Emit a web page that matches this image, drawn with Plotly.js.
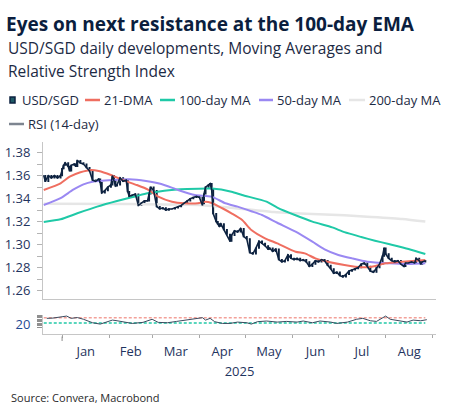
<!DOCTYPE html>
<html>
<head>
<meta charset="utf-8">
<script src="https://cdn.plot.ly/plotly-3.0.1.min.js"></script>
<style>html,body{margin:0;padding:0;background:#fff;}#chart{width:453px;height:417px;}</style>
</head>
<body>
<div id="chart"></div>
<script>
// ---------------- DATA ----------------
const priceDates = ['2024-12-20','2024-12-21','2024-12-23','2024-12-25','2024-12-27','2024-12-29','2024-12-31',
'2025-01-01','2025-01-02','2025-01-03','2025-01-05','2025-01-06','2025-01-07','2025-01-09','2025-01-10','2025-01-11','2025-01-13','2025-01-15','2025-01-17','2025-01-19','2025-01-21','2025-01-23','2025-01-25','2025-01-26','2025-01-27','2025-01-29','2025-01-31',
'2025-02-02','2025-02-03','2025-02-04','2025-02-05','2025-02-06','2025-02-08','2025-02-10','2025-02-12','2025-02-13','2025-02-14','2025-02-16','2025-02-18','2025-02-20','2025-02-22','2025-02-24','2025-02-26','2025-02-27','2025-02-28',
'2025-03-02','2025-03-04','2025-03-06','2025-03-08','2025-03-10','2025-03-12','2025-03-14','2025-03-16','2025-03-18','2025-03-20','2025-03-22','2025-03-24','2025-03-26','2025-03-28','2025-03-30',
'2025-04-01','2025-04-03','2025-04-04','2025-04-05','2025-04-07','2025-04-08','2025-04-09','2025-04-10','2025-04-12','2025-04-13','2025-04-14','2025-04-15','2025-04-17','2025-04-19','2025-04-21','2025-04-22','2025-04-24','2025-04-26','2025-04-28','2025-04-30',
'2025-05-02','2025-05-04','2025-05-06','2025-05-08','2025-05-10','2025-05-12','2025-05-14','2025-05-16','2025-05-17','2025-05-19','2025-05-21','2025-05-23','2025-05-25','2025-05-27','2025-05-29','2025-05-31',
'2025-06-02','2025-06-04','2025-06-06','2025-06-08','2025-06-10','2025-06-12','2025-06-14','2025-06-16','2025-06-18','2025-06-20','2025-06-22','2025-06-24','2025-06-26','2025-06-28','2025-06-30',
'2025-07-02','2025-07-04','2025-07-06','2025-07-08','2025-07-10','2025-07-12','2025-07-14','2025-07-16','2025-07-18','2025-07-20','2025-07-22','2025-07-24','2025-07-26','2025-07-28','2025-07-30','2025-07-31',
'2025-08-01','2025-08-03','2025-08-05','2025-08-07','2025-08-09','2025-08-11','2025-08-13','2025-08-14','2025-08-16','2025-08-18','2025-08-20','2025-08-21','2025-08-23','2025-08-24','2025-08-25','2025-08-27'];
const usdsgd = [1.360,1.355,1.360,1.358,1.360,1.358,1.360,
1.366,1.369,1.371,1.368,1.364,1.369,1.370,1.368,1.373,1.371,1.370,1.367,1.364,1.356,1.355,1.357,1.354,1.345,1.347,1.350,
1.352,1.360,1.356,1.351,1.352,1.358,1.355,1.356,1.346,1.342,1.343,1.344,1.334,1.336,1.338,1.338,1.344,1.350,
1.347,1.333,1.331,1.332,1.330,1.331,1.331,1.332,1.333,1.334,1.336,1.338,1.340,1.341,1.342,
1.341,1.334,1.344,1.350,1.352,1.353,1.348,1.327,1.320,1.318,1.316,1.318,1.313,1.309,1.303,1.308,1.312,1.311,1.314,1.307,
1.305,1.293,1.292,1.297,1.303,1.301,1.299,1.296,1.297,1.294,1.296,1.287,1.285,1.286,1.291,1.288,
1.287,1.288,1.286,1.287,1.285,1.281,1.283,1.286,1.285,1.287,1.286,1.282,1.279,1.275,1.276,
1.273,1.272,1.274,1.277,1.278,1.279,1.280,1.283,1.284,1.281,1.277,1.276,1.280,1.283,1.290,1.297,
1.292,1.288,1.286,1.285,1.286,1.283,1.281,1.284,1.284,1.285,1.284,1.288,1.286,1.283,1.285,1.286];

const ma21Dates = ['2024-12-20','2024-12-31','2025-01-06','2025-01-13','2025-01-20','2025-01-25','2025-02-02','2025-02-10','2025-02-19','2025-02-26','2025-03-05','2025-03-14','2025-03-22','2025-03-31','2025-04-05','2025-04-09','2025-04-16','2025-04-22','2025-04-29','2025-05-05','2025-05-14','2025-05-22','2025-06-03','2025-06-09','2025-06-16','2025-06-24','2025-07-05','2025-07-16','2025-07-23','2025-08-01','2025-08-12','2025-08-27'];
const ma21 = [1.3475,1.3533,1.3590,1.3629,1.3649,1.3640,1.3605,1.3560,1.3518,1.3480,1.3417,1.3373,1.3359,1.3359,1.3373,1.3362,1.3316,1.3272,1.3214,1.3127,1.3055,1.3011,1.2938,1.2924,1.2880,1.2851,1.2823,1.2803,1.2808,1.2837,1.2851,1.2866];

const ma50Dates = ['2024-12-20','2024-12-31','2025-01-08','2025-01-15','2025-01-21','2025-02-03','2025-02-14','2025-02-25','2025-03-07','2025-03-18','2025-03-29','2025-04-09','2025-04-18','2025-04-26','2025-05-05','2025-05-12','2025-05-22','2025-06-03','2025-06-14','2025-06-22','2025-07-01','2025-07-10','2025-07-20','2025-08-03','2025-08-16','2025-08-27'];
const ma50 = [1.3344,1.3403,1.3475,1.3524,1.3547,1.3562,1.3568,1.3553,1.3527,1.3475,1.3431,1.3417,1.3359,1.3330,1.3290,1.3257,1.3190,1.3112,1.3025,1.2959,1.2910,1.2880,1.2851,1.2837,1.2831,1.2837];

const ma100Dates = ['2024-12-20','2024-12-31','2025-01-11','2025-01-24','2025-02-06','2025-02-19','2025-02-26','2025-03-09','2025-03-24','2025-04-09','2025-04-22','2025-04-29','2025-05-15','2025-05-22','2025-06-03','2025-06-14','2025-06-27','2025-07-05','2025-07-16','2025-07-25','2025-08-03','2025-08-16','2025-08-27'];
const ma100 = [1.3197,1.3220,1.3272,1.3330,1.3379,1.3423,1.3446,1.3469,1.3483,1.3487,1.3460,1.3431,1.3373,1.3322,1.3255,1.3200,1.3150,1.3108,1.3066,1.3034,1.3005,1.2962,1.2918];

const ma200Dates = ['2024-12-20','2025-02-15','2025-04-01','2025-04-20','2025-05-05','2025-05-20','2025-06-10','2025-07-05','2025-07-20','2025-08-12','2025-08-27'];
const ma200 = [1.3355,1.3352,1.3345,1.3322,1.3303,1.3283,1.3268,1.3255,1.3243,1.3223,1.3200];

const rsiDates = ['2024-12-22','2024-12-26','2025-01-01','2025-01-04','2025-01-07','2025-01-11','2025-01-15','2025-01-18','2025-01-21','2025-01-26','2025-01-30','2025-02-03','2025-02-06','2025-02-12','2025-02-16','2025-02-23','2025-03-01','2025-03-05','2025-03-11','2025-03-17','2025-03-24','2025-03-30','2025-04-03','2025-04-05','2025-04-08','2025-04-11','2025-04-16','2025-04-21','2025-04-26','2025-05-02','2025-05-05','2025-05-09','2025-05-15','2025-05-22','2025-05-28','2025-06-04','2025-06-08','2025-06-14','2025-06-19','2025-06-26','2025-06-30','2025-07-07','2025-07-13','2025-07-17','2025-07-22','2025-07-26','2025-08-01','2025-08-04','2025-08-09','2025-08-15','2025-08-19','2025-08-24','2025-08-28'];
const rsi = [65,67,77,82,65,71,58,47,32,22,37,52,47,37,27,35,58,35,32,42,52,65,70,52,65,40,27,27,37,32,22,40,45,37,42,37,45,32,45,37,27,37,58,65,47,42,82,58,47,37,52,47,55];
const rsiLevels = [70, 30];

const seriesNames = ['USD/SGD','21-DMA','100-day MA','50-day MA','200-day MA','RSI (14-day)'];
const yTickVals = [1.26,1.28,1.30,1.32,1.34,1.36,1.38];
const rsiTickVals = [0,10,20,30,40,50,60,70,80,90];
const rsiTickText = ['','','20','','','','','','',''];

// ---------------- STYLE ----------------
const C = {navy:'#0d2240', red:'#ef6e60', teal:'#1fc9a7', purple:'#9a88f2', gray:'#e6e6e6', rsi:'#3a4a5e', rsiLeg:'#7d8590', text:'#1c2a44', tick:'#1f3460', axis:'#c6c6c6'};
const FONT = 'Open Sans, Noto Sans, sans-serif';
const W = 453, H = 417, M = {l:43, r:17, t:142, b:83};
const PW = W - M.l - M.r, PH = H - M.t - M.b;
const px = x => (x - M.l) / PW;
const py = y => (H - M.b - y) / PH;

// candlestick fields derived from the closes
const opens = usdsgd.map((c,i) => i === 0 ? c : usdsgd[i-1]);
const highs = opens.map((o,i) => Math.max(o, usdsgd[i]));
const lows  = opens.map((o,i) => Math.min(o, usdsgd[i]));

const traces = [
  {type:'scatter', mode:'lines', x:ma200Dates, y:ma200, name:seriesNames[4], xaxis:'x2', yaxis:'y', line:{color:C.gray, width:2.5, shape:'spline', smoothing:0.6}, hoverinfo:'skip'},
  {type:'scatter', mode:'lines', x:ma100Dates, y:ma100, name:seriesNames[2], xaxis:'x2', yaxis:'y', line:{color:C.teal, width:2, shape:'spline', smoothing:0.6}},
  {type:'scatter', mode:'lines', x:ma50Dates, y:ma50, name:seriesNames[3], xaxis:'x2', yaxis:'y', line:{color:C.purple, width:2, shape:'spline', smoothing:0.6}},
  {type:'scatter', mode:'lines', x:ma21Dates, y:ma21, name:seriesNames[1], xaxis:'x2', yaxis:'y', line:{color:C.red, width:2, shape:'spline', smoothing:0.6}},
  {type:'scatter', mode:'lines', x:priceDates, y:usdsgd, name:seriesNames[0], xaxis:'x2', yaxis:'y', line:{color:C.navy, width:1.6}, showlegend:false},
  {type:'candlestick', x:priceDates, open:opens, high:highs, low:lows, close:usdsgd, name:seriesNames[0], xaxis:'x2', yaxis:'y',
   whiskerwidth:0, increasing:{line:{color:C.navy, width:1.2}, fillcolor:C.navy}, decreasing:{line:{color:C.navy, width:1.2}, fillcolor:C.navy}},
  {type:'scatter', mode:'lines', x:rsiDates, y:rsi, name:seriesNames[5], xaxis:'x', yaxis:'y2', line:{color:C.rsi, width:1}}
];

const shapes = [];
const levelColors = ['#f3a199', '#22c9a8'];
rsiLevels.forEach((lv,i) => shapes.push({type:'line', xref:'x', yref:'y2', x0:priceDates[0], x1:priceDates[priceDates.length-1], y0:lv, y1:lv, line:{color:levelColors[i], width:1.5, dash:'3px,2px'}, layer:'below'}));
// year-boundary tick
shapes.push({type:'line', xref:'x', yref:'paper', x0:'2025-01-01', x1:'2025-01-01', y0:py(336.5), y1:py(341), line:{color:'#8c8c8c', width:1}});

// custom legend
const leg = [
  {i:0, icon:'candle', x0:10, tx:20, y:100},
  {i:1, color:C.red, x0:85, x1:100, tx:102, y:100},
  {i:2, color:C.teal, x0:160, x1:175, tx:177, y:100},
  {i:3, color:C.purple, x0:259, x1:273, tx:275, y:100},
  {i:4, color:C.gray, x0:349, x1:365, tx:367, y:100},
  {i:5, color:C.rsiLeg, x0:9, x1:24, tx:26, y:124}
];
const annotations = [];
leg.forEach(l => {
  if (l.icon === 'candle') {
    shapes.push({type:'rect', xref:'paper', yref:'paper', x0:px(l.x0), x1:px(l.x0+5), y0:py(103), y1:py(97), fillcolor:'#1e5a66', line:{color:C.navy, width:1.5}});
  } else {
    shapes.push({type:'line', xref:'paper', yref:'paper', x0:px(l.x0), x1:px(l.x1), y0:py(l.y), y1:py(l.y), line:{color:l.color, width:2.5}});
  }
  annotations.push({xref:'paper', yref:'paper', x:px(l.tx), y:py(l.y), xanchor:'left', yanchor:'middle', showarrow:false, text:seriesNames[l.i], font:{family:FONT, size:13, color:C.text}});
});

annotations.push({xref:'paper', yref:'paper', x:px(6), y:py(48), xanchor:'left', yanchor:'middle', showarrow:false, text:'USD/SGD daily developments, Moving Averages and', font:{family:FONT, size:15.5, color:C.text}});
annotations.push({xref:'paper', yref:'paper', x:px(6), y:py(70.5), xanchor:'left', yanchor:'middle', showarrow:false, text:'Relative Strength Index', font:{family:FONT, size:15.5, color:C.text}});
annotations.push({xref:'paper', yref:'paper', x:px(9), y:py(397), xanchor:'left', yanchor:'middle', showarrow:false, text:'Source: Convera, Macrobond', font:{family:FONT, size:11, color:'#2a2a2a'}});

const xRange = ['2024-12-19 12:00', '2025-09-03'];
const layout = {
  width:W, height:H, autosize:false,
  margin:{l:M.l, r:M.r, t:M.t, b:M.b, pad:0},
  paper_bgcolor:'#fff', plot_bgcolor:'#fff',
  font:{family:FONT, color:C.text},
  showlegend:false,
  title:{text:'<b>Eyes on next resistance at the 100-day EMA</b>', x:6/W, xref:'container', xanchor:'left', y:1-24/H, yref:'container', yanchor:'middle', font:{family:FONT, size:19, color:'#0b1e3e'}},
  xaxis:{type:'date', range:xRange, anchor:'y2', showline:true, linecolor:C.axis, linewidth:1, ticks:'outside', ticklen:3, tickcolor:'#a8a8a8',
         dtick:'M1', tick0:'2025-01-01', tickformat:'%b', ticklabelmode:'period', ticklabelstandoff:2,
         tickfont:{family:FONT, size:13, color:C.tick}, showgrid:false, zeroline:false, rangeslider:{visible:false},
         title:{text:'2025', standoff:8, font:{family:FONT, size:13, color:C.tick}}},
  xaxis2:{type:'date', range:xRange, matches:'x', anchor:'y', showline:true, linecolor:C.axis, linewidth:1, ticks:'', showticklabels:false, showgrid:false, zeroline:false, rangeslider:{visible:false}},
  yaxis:{domain:[py(299), 1], range:[1.2527, 1.3892], tickvals:yTickVals, tickformat:'.2f', ticks:'outside', ticklen:5, tickcolor:'#b4b4b4',
         showline:true, linecolor:C.axis, linewidth:1, showgrid:false, zeroline:false, ticklabelstandoff:4,
         tickfont:{family:FONT, size:13, color:C.tick},
         minor:{dtick:0.01, tick0:1.25, ticks:'outside', ticklen:5, tickcolor:'#b4b4b4', showgrid:false}},
  yaxis2:{domain:[0, py(315)], range:[-52, 90], tickvals:rsiTickVals, ticktext:rsiTickText, ticks:'outside', ticklen:5, tickcolor:'#8f8f8f',
          showline:true, linecolor:C.axis, linewidth:1, showgrid:false, zeroline:false, ticklabelstandoff:4,
          tickfont:{family:FONT, size:13, color:'#1f4a94'}},
  shapes:shapes, annotations:annotations
};
Plotly.newPlot('chart', traces, layout, {displayModeBar:false, staticPlot:true});
</script>
</body>
</html>
